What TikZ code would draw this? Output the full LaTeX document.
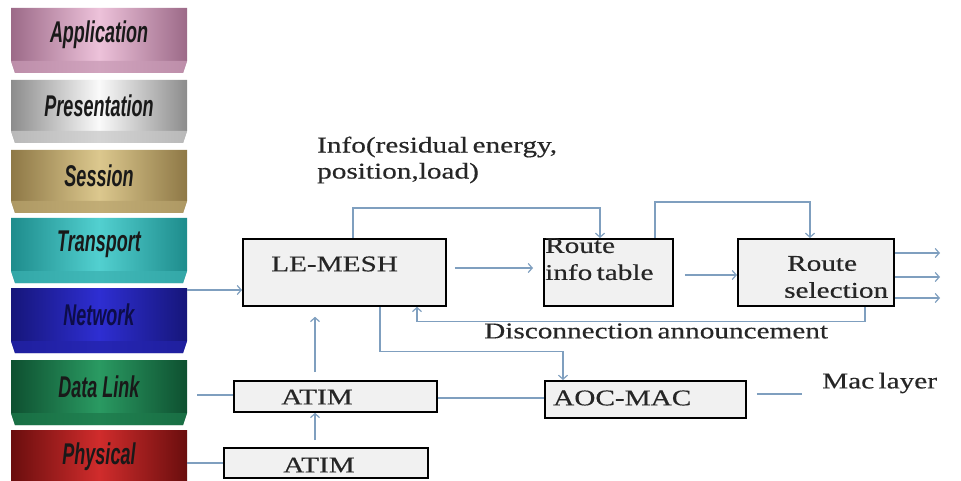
\documentclass[tikz,border=0pt]{standalone}
\usepackage{fontspec}
\setmainfont{Liberation Serif}
\newfontfamily\diagfont[FakeStretch=1.3,FakeBold=0.4,WordSpace=0.6]{Liberation Serif}
\newfontfamily\layerfont[FakeStretch=0.6]{Liberation Sans}
\usetikzlibrary{arrows.meta,calc}
\definecolor{conncol}{HTML}{7F9FBF}
\definecolor{boxfill}{HTML}{F1F1F1}
\definecolor{appE}{HTML}{9C6A88}\definecolor{appC}{HTML}{EDC2DA}
\definecolor{preE}{HTML}{8C8C8C}\definecolor{preC}{HTML}{FAFAFA}
\definecolor{sesE}{HTML}{8E7846}\definecolor{sesC}{HTML}{DCC88E}
\definecolor{traE}{HTML}{1E8C8C}\definecolor{traC}{HTML}{52D0D0}
\definecolor{netE}{HTML}{16167A}\definecolor{netC}{HTML}{2E2ED2}
\definecolor{dlkE}{HTML}{0E5030}\definecolor{dlkC}{HTML}{2A9A62}
\definecolor{phyE}{HTML}{6A0E0E}\definecolor{phyC}{HTML}{D02C2C}
\newcommand{\osilayer}[6]{%
  \shade[left color=#4, right color=#4, middle color=#5]
    (11,#2) -- (187,#2) -- (187,#3-12) -- (183,#3) -- (15,#3) -- (11,#3-12) -- cycle;
  \fill[#5!55!#4, opacity=0.75] (11,#3-12) -- (187,#3-12) -- (183,#3) -- (15,#3) -- cycle;
  \node[layertext] (#1) at (99,{(#2+#3-12)/2}) {#6};
}
\begin{document}
\begin{tikzpicture}[x=1pt,y=-1pt,
  layertext/.style={font=\layerfont\bfseries\itshape\fontsize{30}{32}\selectfont, text=black!90, inner sep=0pt},
  blk/.style={draw=black, line width=1.8pt, fill=boxfill, anchor=north west, inner sep=0pt},
  lbl/.style={font=\diagfont\fontsize{22.5}{26}\selectfont, text=black!85, inner sep=0pt, align=left},
  conn/.style={draw=conncol, line width=1.2pt},
  >={Straight Barb[length=4pt,width=9pt]}]
\useasboundingbox (0,0) rectangle (961,481);
\fill[white] (0,0) rectangle (961,481);
\begin{scope}
\clip (0,0) rectangle (961,481);
\osilayer{app}{8}{73}{appE}{appC}{Application}
\osilayer{pres}{80}{143}{preE}{preC}{Presentation}
\osilayer{sess}{150}{213}{sesE}{sesC}{Session}
\osilayer{trans}{218}{283}{traE}{traC}{Transport}
\osilayer{net}{288}{353}{netE}{netC}{\textcolor{netE!60!black}{Network}}
\osilayer{dlink}{360}{425}{dlkE}{dlkC}{Data Link}
\osilayer{phys}{430}{496}{phyE}{phyC}{Physical}
\end{scope}

% boxes
\node[blk, minimum width=203pt, minimum height=67pt] (lemesh) at (242,238) {};
\node[blk, minimum width=129pt, minimum height=67pt] (rit) at (543,238) {};
\node[blk, minimum width=156pt, minimum height=67pt] (rs) at (737,238) {};
\node[blk, minimum width=203pt, minimum height=31pt] (atim1) at (233,380) {};
\node[blk, minimum width=201pt, minimum height=37pt] (aoc) at (544,380) {};
\node[blk, minimum width=204pt, minimum height=30pt] (atim2) at (223,447) {};

% texts
\node[lbl, anchor=west] (lemeshtxt) at (271,264) {LE-MESH};
\node[lbl, anchor=north west, font=\diagfont\fontsize{22.5}{27}\selectfont] (rittxt) at (545,238) {Route\\info table};
\node[lbl, anchor=west, font=\diagfont\fontsize{22.5}{27}\selectfont] (rstxt) at (784,277) {\hspace*{3pt}Route\\selection};
\node[lbl] (atim1txt) at (317,397) {ATIM};
\node[lbl] (atim2txt) at (319,465) {ATIM};
\node[lbl, anchor=west] (aoctxt) at (553,398) {AOC-MAC};
\node[lbl, anchor=west] (mactxt) at (822,383) {Mac layer};
\node[lbl, anchor=west] (disctxt) at (484,331) {Disconnection announcement};
\node[lbl, anchor=west, font=\diagfont\fontsize{22.5}{26}\selectfont] (infotxt) at (317,160) {Info(residual energy,\\position,load)};

% coordinates
\coordinate (netp) at (187,290);
\coordinate (dlp) at (197,395);
\coordinate (php) at (187,463);
\coordinate (out1) at (940,253);
\coordinate (out2) at (940,277);
\coordinate (out3) at (940,298);
\coordinate (macend) at (802,394);

% connectors
\draw[conn,->] (netp) -- (netp -| lemesh.west);
\draw[conn,->] ([xshift=111pt]lemesh.north west) -- ++(0,-30) -| ([xshift=57pt]rit.north west);
\draw[conn,->] ([xshift=112pt]rit.north west) -- ++(0,-36) -| ([xshift=73pt]rs.north west);
\draw[conn,->,shorten <=8pt,shorten >=10pt] (lemesh.east |- 0,268) -- (rit.west |- 0,268);
\draw[conn,->,shorten <=11pt] (rit.east |- 0,275) -- (rs.west |- 0,275);
\draw[conn,->] (rs.east |- out1) -- (out1);
\draw[conn,->] (rs.east |- out2) -- (out2);
\draw[conn,->] (rs.east |- out3) -- (out3);
\draw[conn,->] (rs.south -| 865,0) -- ++(0,15) -| (lemesh.south -| 417,0);
\draw[conn,->] (lemesh.south -| 380,0) -- ++(0,45) -| (aoc.north -| 563,0);
\draw[conn,->,shorten <=8pt,shorten >=10pt] (atim1.north -| 315,0) -- (lemesh.south -| 315,0);
\draw[conn,->,shorten <=7pt] (atim2.north -| 315,0) -- (atim1.south -| 315,0);
\draw[conn] (dlp) -- (dlp -| atim1.west);
\draw[conn] (php) -- (php -| atim2.west);
\draw[conn] (atim1.east |- 0,398) -- (aoc.west |- 0,398);
\draw[conn,shorten <=10pt] (aoc.east |- macend) -- (macend);
\end{tikzpicture}
\end{document}
